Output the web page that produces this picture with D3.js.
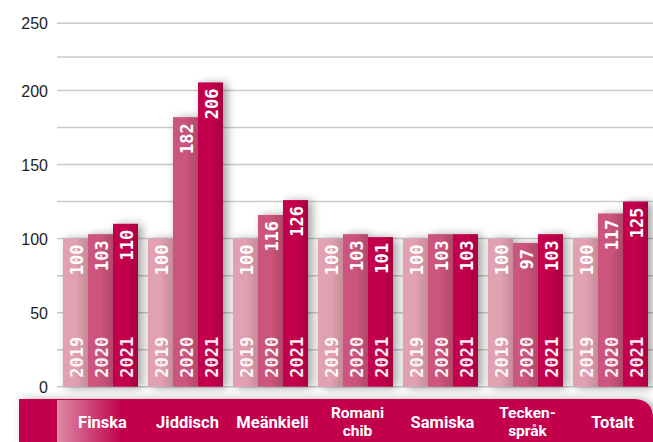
<!DOCTYPE html>
<html>
<head>
<meta charset="utf-8">
<script src="https://cdnjs.cloudflare.com/ajax/libs/d3/7.8.5/d3.min.js"></script>
<style>
  body { margin: 0; background: #fff; }
  svg { display: block; }
</style>
</head>
<body>
<div id="chart"></div>
<script>
var width = 653, height = 442;

// data (index, 2019 = 100)
var categories = ["Finska", "Jiddisch", "Meänkieli", "Romani chib", "Samiska", "Teckenspråk", "Totalt"];
var labelLines = [["Finska"], ["Jiddisch"], ["Meänkieli"], ["Romani", "chib"], ["Samiska"], ["Tecken-", "språk"], ["Totalt"]];
var years = ["2019", "2020", "2021"];
var values2019 = [100, 100, 100, 100, 100, 100, 100];
var values2020 = [103, 182, 116, 103, 103, 97, 117];
var values2021 = [110, 206, 126, 101, 103, 103, 125];
var yTicks = [0, 50, 100, 150, 200, 250];
var gridTicks = [0, 25, 50, 75, 100, 125, 150, 175, 200, 225, 250];

var series = [values2019, values2020, values2021];
var barColors = ["#e2a1b0", "#cb547b", "#c2004b"];

var svg = d3.select("#chart").append("svg")
            .attr("width", width)
            .attr("height", height);

var defs = svg.append("defs");

var shadow = defs.append("filter").attr("id", "shadow")
                 .attr("x", "-40%").attr("y", "-20%")
                 .attr("width", "180%").attr("height", "140%");
shadow.append("feDropShadow")
      .attr("dx", 4).attr("dy", 1)
      .attr("stdDeviation", 5)
      .attr("flood-color", "#000")
      .attr("flood-opacity", 0.38);

barColors.forEach(function(c, i) {
  var g = defs.append("linearGradient").attr("id", "bar" + i)
              .attr("x1", "0%").attr("x2", "100%");
  g.append("stop").attr("offset", "0%").attr("stop-color", c);
  g.append("stop").attr("offset", "50%").attr("stop-color", c);
  g.append("stop").attr("offset", "100%").attr("stop-color", d3.color(c).darker(0.4));
});

var bandGrad = defs.append("linearGradient").attr("id", "bandGrad")
                   .attr("x1", "0%").attr("x2", "100%");
bandGrad.append("stop").attr("offset", "0%").attr("stop-color", "#dc8aa6");
bandGrad.append("stop").attr("offset", "100%").attr("stop-color", "#c2004b");

// scales
var x0 = d3.scaleBand()
           .domain(categories)
           .range([63, 648])
           .paddingInner(10 / 85)
           .paddingOuter(0);

var x1 = d3.scaleBand()
           .domain(years)
           .range([0, x0.bandwidth()]);

// the original's axis is a little squeezed above 200
var y = d3.scaleLinear()
          .domain([0, 200, 250])
          .range([386.7, 90.5, 23.3]);

// grid lines
svg.append("g").selectAll("line")
   .data(gridTicks)
   .enter().append("line")
   .attr("x1", 57).attr("x2", width)
   .attr("y1", function(d) { return y(d); })
   .attr("y2", function(d) { return y(d); })
   .attr("stroke", "#cacaca")
   .attr("stroke-width", 1.5);

// y axis labels
var yAxis = d3.axisLeft(y).tickValues(yTicks).tickSize(0).tickPadding(0);
var yAxisG = svg.append("g")
                .attr("transform", "translate(48,0)")
                .call(yAxis);
yAxisG.select(".domain").remove();
yAxisG.selectAll("text")
      .attr("font-family", "'Liberation Sans', Arial, sans-serif")
      .attr("font-size", 16)
      .attr("fill", "#222")
      .attr("dy", "0.35em");

// bottom band
svg.append("path")
   .attr("d", "M19,399 H633 Q653,399 653,419 V442 H19 Z")
   .attr("fill", "#c2004b")
   .attr("filter", "url(#shadow)");
svg.append("rect")
   .attr("x", 57).attr("y", 400)
   .attr("width", 65).attr("height", 42)
   .attr("fill", "url(#bandGrad)");

var barData = function(d, i) {
  return years.map(function(yr, j) { return {year: yr, idx: j, value: series[j][i]}; });
};

// bars
var groups = svg.append("g").selectAll("g")
                .data(categories)
                .enter().append("g")
                .attr("transform", function(d) { return "translate(" + x0(d) + ",0)"; })
                .attr("filter", "url(#shadow)");

groups.selectAll("rect")
      .data(barData)
      .enter().append("rect")
      .attr("x", function(d) { return x1(d.year); })
      .attr("y", function(d) { return y(d.value); })
      .attr("width", x1.bandwidth())
      .attr("height", function(d) { return y(0) - y(d.value); })
      .attr("fill", function(d) { return "url(#bar" + d.idx + ")"; });

// labels inside bars (no filter so they stay crisp)
var labelGroups = svg.append("g").selectAll("g")
                     .data(categories)
                     .enter().append("g")
                     .attr("transform", function(d) { return "translate(" + x0(d) + ",0)"; });

labelGroups.selectAll("text.val")
           .data(barData)
           .enter().append("text")
           .attr("class", "val")
           .attr("transform", function(d) {
             return "translate(" + (x1(d.year) + x1.bandwidth() / 2 + 1) + "," + (y(d.value) + 6) + ") rotate(-90)";
           })
           .attr("text-anchor", "end")
           .attr("dy", "0.36em")
           .attr("font-family", "'DejaVu Sans Mono', monospace")
           .attr("font-weight", "bold")
           .attr("font-size", 17)
           .attr("fill", "#fff")
           .text(function(d) { return d.value; });

labelGroups.selectAll("text.yr")
           .data(barData)
           .enter().append("text")
           .attr("class", "yr")
           .attr("transform", function(d) {
             return "translate(" + (x1(d.year) + x1.bandwidth() / 2 + 1) + "," + (y(0) - 9) + ") rotate(-90)";
           })
           .attr("text-anchor", "start")
           .attr("dy", "0.36em")
           .attr("font-family", "'DejaVu Sans Mono', monospace")
           .attr("font-weight", "bold")
           .attr("font-size", 17)
           .attr("fill", "#fff")
           .attr("fill-opacity", 0.92)
           .text(function(d) { return d.year; });

// category labels, two-line ones split into separate texts
var catG = svg.append("g");
categories.forEach(function(d, i) {
  var lines = labelLines[i];
  lines.forEach(function(line, k) {
    catG.append("text")
        .attr("x", x0(d) + x0.bandwidth() / 2 + 2)
        .attr("y", lines.length > 1 ? 417.5 + k * 18.5 : 427.5)
        .attr("text-anchor", "middle")
        .attr("font-family", "Roboto, 'Noto Sans', sans-serif")
        .attr("font-weight", "bold")
        .attr("font-size", lines.length > 1 ? 15.5 : 16.5)
        .attr("fill", "#fff")
        .text(line);
  });
});
</script>
</body>
</html>
